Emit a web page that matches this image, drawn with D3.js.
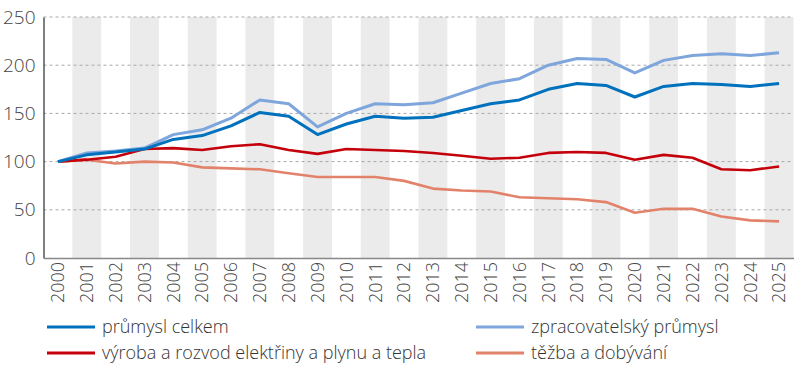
<!DOCTYPE html>
<html>
<head>
<meta charset="utf-8">
<script src="https://cdn.jsdelivr.net/npm/d3@7"></script>
<style>
  body { margin: 0; background: #fff; }
  svg text { font-family: "Open Sans", sans-serif; font-weight: 300; }
</style>
</head>
<body>
<svg id="chart" width="800" height="374"></svg>
<script>
// data (index, 2000 = 100)
var years = d3.range(2000, 2026);
var celkem = [100, 107, 110, 113, 123, 127, 137, 151, 147, 128, 139, 147, 145, 146, 153, 160, 164, 175, 181, 179, 167, 178, 181, 180, 178, 181];
var zpracovatelsky = [100, 109, 111, 114, 128, 133, 145, 164, 160, 136, 150, 160, 159, 161, 171, 181, 186, 200, 207, 206, 192, 205, 210, 212, 210, 213];
var energie = [100, 102, 105, 113, 114, 112, 116, 118, 112, 108, 113, 112, 111, 109, 106, 103, 104, 109, 110, 109, 102, 107, 104, 92, 91, 95];
var tezba = [100, 102, 98, 100, 99, 94, 93, 92, 88, 84, 84, 84, 80, 72, 70, 69, 63, 62, 61, 58, 47, 51, 51, 43, 39, 38];
var yTicks = [0, 50, 100, 150, 200, 250];

var series = [
    {name: "průmysl celkem", values: celkem, color: "#0071bc", width: 3},
    {name: "zpracovatelský průmysl", values: zpracovatelsky, color: "#7ea6dc", width: 3},
    {name: "výroba a rozvod elektřiny a plynu a tepla", values: energie, color: "#c4000b", width: 2.6},
    {name: "těžba a dobývání", values: tezba, color: "#e3826a", width: 2.6}
];

var svg = d3.select("#chart");
var margin = {left: 43.5, right: 6.5, top: 17, bottom: 116};
var width = 800 - margin.left - margin.right,
    height = 374 - margin.top - margin.bottom;

var g = svg.append("g")
    .attr("transform", "translate(" + margin.left + "," + margin.top + ")");

var xScale = d3.scaleBand().domain(years).range([0, width]);
var yScale = d3.scaleLinear().domain([0, 250]).range([height, 0]);

//Shaded columns on odd years
g.selectAll(".band")
    .data(years.filter(function(d) { return d % 2 === 1; }))
    .enter().append("rect")
    .attr("class", "band")
    .attr("x", function(d) { return xScale(d); })
    .attr("y", 0)
    .attr("width", xScale.bandwidth())
    .attr("height", height)
    .attr("fill", "#ebebeb");

//Dotted grid
g.selectAll(".grid")
    .data(yTicks.filter(function(d) { return d > 0; }))
    .enter().append("line")
    .attr("class", "grid")
    .attr("x1", 0).attr("x2", width)
    .attr("y1", function(d) { return yScale(d); })
    .attr("y2", function(d) { return yScale(d); })
    .attr("stroke", "#a8a8a8")
    .attr("stroke-width", 1)
    .attr("stroke-dasharray", "3,3");

//Y axis
var yAxis = d3.axisLeft(yScale).tickValues(yTicks).tickSize(0).tickPadding(8);
var yG = g.append("g").call(yAxis);
yG.select(".domain").attr("stroke", "#555").attr("stroke-width", 1.5);
yG.selectAll("text").attr("font-size", "19px").attr("fill", "#444");

//X axis, labels rotated
var xAxis = d3.axisBottom(xScale).tickSize(0).tickPadding(0);
var xG = g.append("g")
    .attr("transform", "translate(0," + height + ")")
    .call(xAxis);
xG.select(".domain").attr("stroke", "#888").attr("stroke-width", 1.5);
xG.selectAll("text")
    .attr("font-size", "18px")
    .attr("fill", "#444")
    .attr("transform", "rotate(-90)")
    .attr("text-anchor", "end")
    .attr("x", -4)
    .attr("y", 0)
    .attr("dy", "0.35em");

var line = d3.line()
    .x(function(d, i) { return xScale(years[i]) + xScale.bandwidth() / 2; })
    .y(function(d) { return yScale(d); });

//draw in reverse so total is on top
series.slice().reverse().forEach(function(s) {
    g.append("path")
        .datum(s.values)
        .attr("fill", "none")
        .attr("stroke", s.color)
        .attr("stroke-width", s.width)
        .attr("stroke-linejoin", "round")
        .attr("d", line);
});

//Legend, two columns
var legend = svg.append("g");
var item = legend.selectAll(".legend")
    .data(series)
    .enter().append("g")
    .attr("class", "legend")
    .attr("transform", function(d, i) {
        return "translate(" + (i % 2 === 0 ? 47 : 476) + "," + (i < 2 ? 327 : 353) + ")";
    });
item.append("line")
    .attr("x1", 0).attr("x2", 48)
    .attr("stroke", function(d) { return d.color; })
    .attr("stroke-width", 3);
item.append("text")
    .attr("x", 55)
    .attr("dy", "0.35em")
    .attr("font-size", "18px")
    .attr("fill", "#333")
    .text(function(d) { return d.name; });
</script>
</body>
</html>
